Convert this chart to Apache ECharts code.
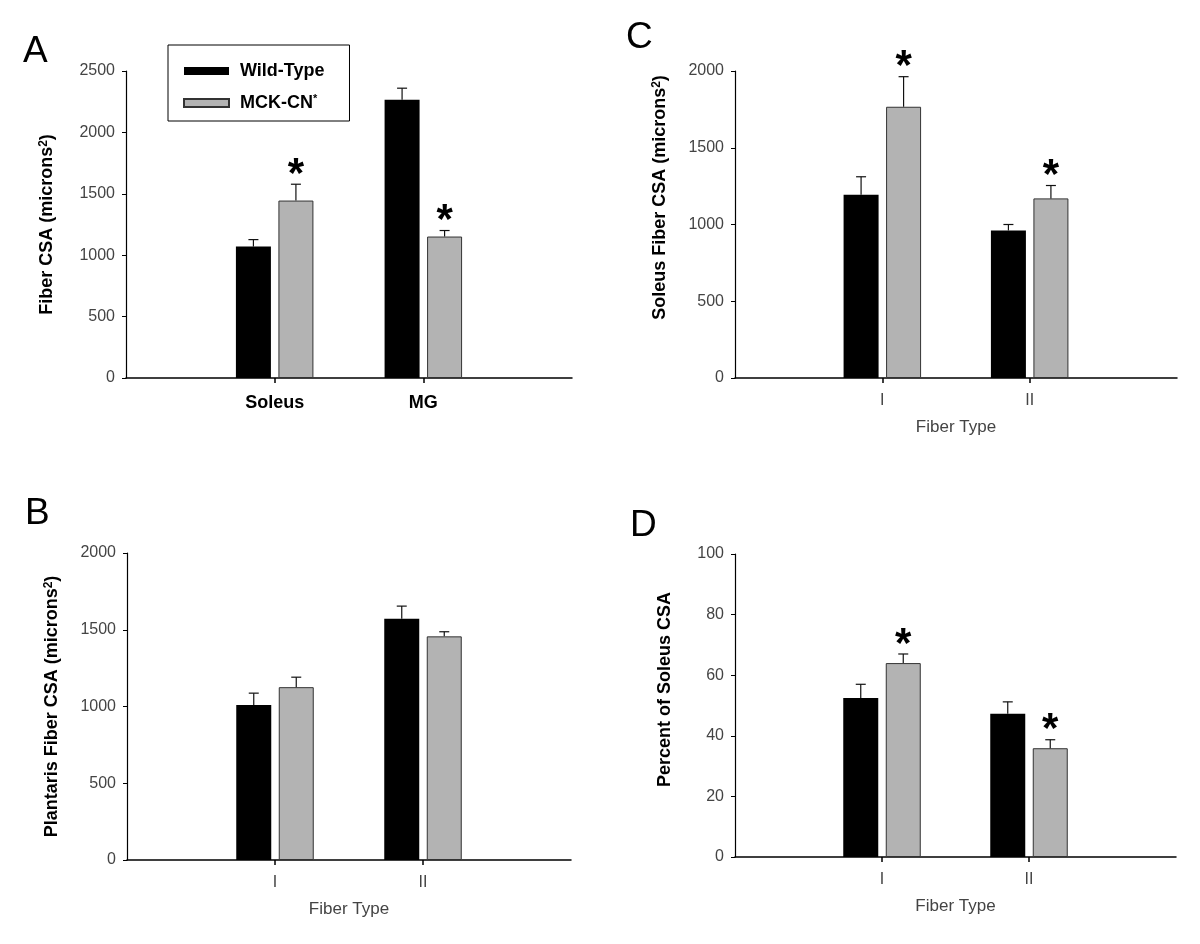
<!DOCTYPE html>
<html>
<head>
<meta charset="utf-8">
<script src="https://cdn.jsdelivr.net/npm/echarts@6/dist/echarts.min.js"></script>
<style>
html,body{margin:0;padding:0;background:#fff;}
#chart{width:1200px;height:944px;}
</style>
</head>
<body>
<div id="chart"></div>
<script>
// ---------- data ----------
const muscleCats = ['Soleus', 'MG'];
const fiberCats = ['I', 'II'];
const seriesNames = ['Wild-Type', 'MCK-CN*'];

// Panel A: Fiber CSA (microns^2)
const aWT = [1070, 2265];
const aWTErr = [57, 95];
const aMCK = [1445, 1152];
const aMCKErr = [133, 49];
const aSig = [1, 1];

// Panel B: Plantaris Fiber CSA
const bWT = [1009, 1572];
const bWTErr = [78, 82];
const bMCK = [1126, 1457];
const bMCKErr = [65, 30];
const bSig = [0, 0];

// Panel C: Soleus Fiber CSA
const cWT = [1193, 961];
const cWTErr = [118, 39];
const cMCK = [1767, 1170];
const cMCKErr = [196, 84];
const cSig = [1, 1];

// Panel D: Percent of Soleus CSA
const dWT = [52.5, 47.3];
const dWTErr = [4.5, 3.9];
const dMCK = [64.0, 35.9];
const dMCKErr = [3.0, 2.8];
const dSig = [1, 1];

const yTicksA = {min: 0, max: 2500, interval: 500};
const yTicksBC = {min: 0, max: 2000, interval: 500};
const yTicksD = {min: 0, max: 100, interval: 20};

// ---------- styling ----------
const FONT = '"Liberation Sans", Arial, sans-serif';
const BAR_W = 35;
const GAP_PX = 7.5;
const OFF = (BAR_W + GAP_PX) / 2;
const GRAY = '#b3b3b3';

function pad(arr) { return ['-'].concat(arr, ['-']); }
function padCats(arr) { return [''].concat(arr, ['']); }

function errData(vals, errs, sig) {
  return vals.map((v, i) => [i + 1, v, errs[i], sig ? sig[i] : 0]);
}

function errRender(offset) {
  return function (params, api) {
    const idx = api.value(0), v = api.value(1), e = api.value(2), s = api.value(3);
    const base = api.coord([idx, v]);
    const top = api.coord([idx, v + e]);
    const x = base[0] + offset;
    const cap = 5;
    const children = [
      {type: 'line', shape: {x1: x, y1: base[1], x2: x, y2: top[1]}, style: {stroke: '#111', lineWidth: 1.2}},
      {type: 'line', shape: {x1: x - cap, y1: top[1], x2: x + cap, y2: top[1]}, style: {stroke: '#111', lineWidth: 1.2}}
    ];
    if (s) {
      children.push({type: 'text', x: x, y: top[1] + 12,
        style: {text: '*', fill: '#000', font: 'bold 42px ' + FONT, align: 'center', verticalAlign: 'bottom'}});
    }
    return {type: 'group', children: children};
  };
}

const grids = [
  {left: 126, right: 628, top: 71, bottom: 566},   // A
  {left: 127, right: 629, top: 553, bottom: 84},   // B
  {left: 735, right: 23, top: 71, bottom: 566},    // C
  {left: 735, right: 24, top: 554, bottom: 87}     // D
];

function xAxisFor(gi, cats, bold, showName) {
  return {
    type: 'category', gridIndex: gi, data: padCats(cats), boundaryGap: false,
    axisLine: {lineStyle: {color: '#000', width: 1.5}},
    axisTick: {length: 5, lineStyle: {color: '#000', width: 1.5}, interval: function (i) { return i === 1 || i === 2; }},
    axisLabel: bold
      ? {interval: 0, margin: 16, color: '#000', fontFamily: FONT, fontSize: 18, fontWeight: 'bold'}
      : {interval: 0, margin: 15, color: '#444', fontFamily: FONT, fontSize: 16},
    name: showName ? 'Fiber Type' : '', nameLocation: 'middle', nameGap: 41,
    nameTextStyle: {color: '#444', fontFamily: FONT, fontSize: 17},
    splitLine: {show: false}
  };
}

function yAxisFor(gi, ticks, name, gap, shift) {
  return {
    type: 'value', gridIndex: gi, min: ticks.min, max: ticks.max, interval: ticks.interval,
    axisLine: {show: true, lineStyle: {color: '#000', width: 1.2}},
    axisTick: {show: true, length: 4, lineStyle: {color: '#000'}},
    axisLabel: {margin: 11, color: '#444', fontFamily: FONT, fontSize: 16,
      formatter: function (v) { return String(v); }},
    splitLine: {show: false},
    name: name, nameLocation: 'middle', nameGap: gap, nameRotate: 90,
    nameTextStyle: {
      color: '#000', fontFamily: FONT, fontSize: 18, fontWeight: 'bold',
      padding: shift ? [0, 0, 0, shift] : 0,
      rich: {
        sup: {fontSize: 12, fontWeight: 'bold', fontFamily: FONT, color: '#000', verticalAlign: 'top', lineHeight: 10}
      }
    }
  };
}

function barSeries(name, gi, vals, color, border) {
  return {
    name: name, type: 'bar', xAxisIndex: gi, yAxisIndex: gi, data: pad(vals),
    barWidth: BAR_W, barGap: (GAP_PX / BAR_W * 100) + '%',
    itemStyle: {color: color, borderColor: border ? '#333' : color, borderWidth: border ? 1 : 0},
    emphasis: {disabled: true}, animation: false
  };
}

function errSeries(gi, vals, errs, sig, offset) {
  return {
    type: 'custom', xAxisIndex: gi, yAxisIndex: gi, data: errData(vals, errs, sig),
    renderItem: errRender(offset), silent: true, animation: false, z: 5
  };
}

const panels = [
  {gi: 0, wt: aWT, wtE: aWTErr, mck: aMCK, mckE: aMCKErr, sig: aSig},
  {gi: 1, wt: bWT, wtE: bWTErr, mck: bMCK, mckE: bMCKErr, sig: bSig},
  {gi: 2, wt: cWT, wtE: cWTErr, mck: cMCK, mckE: cMCKErr, sig: cSig},
  {gi: 3, wt: dWT, wtE: dWTErr, mck: dMCK, mckE: dMCKErr, sig: dSig}
];

const series = [];
panels.forEach(p => {
  series.push(barSeries(seriesNames[0], p.gi, p.wt, '#000', false));
  series.push(barSeries(seriesNames[1], p.gi, p.mck, GRAY, true));
  series.push(errSeries(p.gi, p.wt, p.wtE, null, -OFF));
  series.push(errSeries(p.gi, p.mck, p.mckE, p.sig, OFF));
});

const letterStyle = {color: '#000', fontFamily: FONT, fontSize: 37, fontWeight: 'normal'};

const option = {
  backgroundColor: '#fff',
  animation: false,
  title: [
    {text: 'A', left: 23, top: 33, textStyle: letterStyle, padding: 0},
    {text: 'C', left: 626, top: 19, textStyle: letterStyle, padding: 0},
    {text: 'B', left: 25, top: 495, textStyle: letterStyle, padding: 0},
    {text: 'D', left: 630, top: 507, textStyle: letterStyle, padding: 0}
  ],
  legend: {
    orient: 'vertical', left: 168, top: 45, data: seriesNames,
    itemWidth: 45, itemHeight: 8, itemGap: 12,
    padding: [16, 25, 8, 15],
    borderColor: '#000', borderWidth: 1, selectedMode: false,
    icon: 'rect',
    formatter: function (n) { return n === 'MCK-CN*' ? 'MCK-CN{sup|*}' : n; },
    textStyle: {
      color: '#000', fontFamily: FONT, fontSize: 18, fontWeight: 'bold', lineHeight: 20, padding: [0, 0, 0, 6],
      rich: {sup: {fontSize: 11, fontFamily: FONT, color: '#000', verticalAlign: 'top', lineHeight: 10}}
    }
  },
  grid: grids,
  xAxis: [
    xAxisFor(0, muscleCats, true, false),
    xAxisFor(1, fiberCats, false, true),
    xAxisFor(2, fiberCats, false, true),
    xAxisFor(3, fiberCats, false, true)
  ],
  yAxis: [
    yAxisFor(0, yTicksA, 'Fiber CSA (microns{sup|2})', 70, 0),
    yAxisFor(1, yTicksBC, 'Plantaris Fiber CSA (microns{sup|2})', 66, 0),
    yAxisFor(2, yTicksBC, 'Soleus Fiber CSA (microns{sup|2})', 66, 54),
    yAxisFor(3, yTicksD, 'Percent of Soleus CSA', 61, 32)
  ],
  series: series
};

const chart = echarts.init(document.getElementById('chart'), null, {renderer: 'canvas'});
chart.setOption(option);
</script>
</body>
</html>
